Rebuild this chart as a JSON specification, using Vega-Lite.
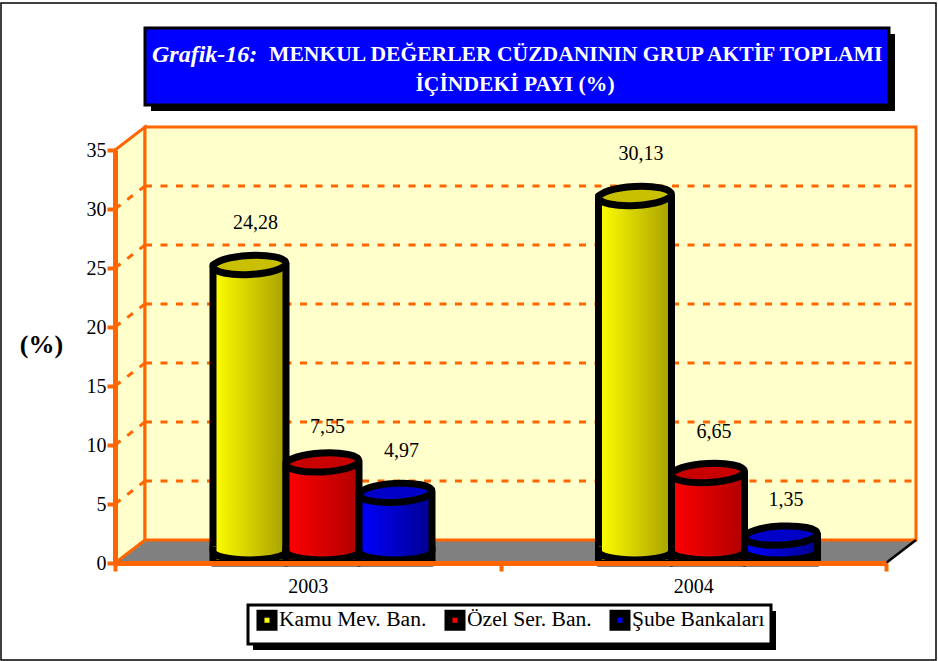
{"$schema":"https://vega.github.io/schema/vega-lite/v6.json","width":771,"height":413,"autosize":"none","padding":{"left":115,"top":150,"right":52,"bottom":98},"background":"white","config":{"font":"Liberation Serif","view":{"stroke":null},"text":{"font":"Liberation Serif"}},"data":{"values":[{"year":"2003","series":"Kamu Mev. Ban.","v":24.28,"label":"24,28"},{"year":"2003","series":"Özel Ser. Ban.","v":7.55,"label":"7,55"},{"year":"2003","series":"Şube Bankaları","v":4.97,"label":"4,97"},{"year":"2004","series":"Kamu Mev. Ban.","v":30.13,"label":"30,13"},{"year":"2004","series":"Özel Ser. Ban.","v":6.65,"label":"6,65"},{"year":"2004","series":"Şube Bankaları","v":1.35,"label":"1,35"}]},"resolve":{"scale":{"x":"independent"},"axis":{"x":"independent","y":"independent"}},"layer":[
{"data":{"values":[{}]},"mark":{"type":"rect","fill":null,"stroke":"black","strokeWidth":1.5},"encoding":{"x":{"datum":-114,"type":"quantitative","scale":{"domain":[0,771],"nice":false},"axis":null},"x2":{"datum":821},"y":{"datum":47.46,"type":"quantitative","scale":{"domain":[0,35],"nice":false},"axis":null},"y2":{"datum":-8.22}}},
{"data":{"values":[{}]},"mark":{"type":"rect","fill":"black","xOffset":6,"x2Offset":6,"yOffset":6,"y2Offset":6},"encoding":{"x":{"datum":30,"type":"quantitative","scale":{"domain":[0,771],"nice":false},"axis":null},"x2":{"datum":774},"y":{"datum":45.34,"type":"quantitative","scale":{"domain":[0,35],"nice":false},"axis":null},"y2":{"datum":38.81}}},
{"data":{"values":[{}]},"mark":{"type":"rect","fill":"#0000FF","stroke":"black","strokeWidth":3},"encoding":{"x":{"datum":30,"type":"quantitative","scale":{"domain":[0,771],"nice":false},"axis":null},"x2":{"datum":774},"y":{"datum":45.34,"type":"quantitative","scale":{"domain":[0,35],"nice":false},"axis":null},"y2":{"datum":38.81}}},
{"data":{"values":[{}]},"mark":{"type":"text","text":"Grafik-16:","align":"left","baseline":"middle","fontSize":24,"fontStyle":"italic","fontWeight":"bold","fill":"white"},"encoding":{"x":{"datum":37,"type":"quantitative","scale":{"domain":[0,771],"nice":false},"axis":null},"y":{"datum":43.07,"type":"quantitative","scale":{"domain":[0,35],"nice":false},"axis":null}}},
{"data":{"values":[{}]},"mark":{"type":"text","text":"MENKUL DEĞERLER CÜZDANININ GRUP AKTİF TOPLAMI","align":"left","baseline":"middle","fontSize":21.6,"fontWeight":"bold","fill":"white"},"encoding":{"x":{"datum":154,"type":"quantitative","scale":{"domain":[0,771],"nice":false},"axis":null},"y":{"datum":43.07,"type":"quantitative","scale":{"domain":[0,35],"nice":false},"axis":null}}},
{"data":{"values":[{}]},"mark":{"type":"text","text":"İÇİNDEKİ PAYI (%)","align":"center","baseline":"middle","fontSize":21.6,"fontWeight":"bold","fill":"white"},"encoding":{"x":{"datum":400,"type":"quantitative","scale":{"domain":[0,771],"nice":false},"axis":null},"y":{"datum":40.47,"type":"quantitative","scale":{"domain":[0,35],"nice":false},"axis":null}}},
{"data":{"values":[{"px":0,"lo":0,"hi":0},{"px":30,"lo":0,"hi":1.949},{"px":771,"lo":0,"hi":1.949},{"px":801,"lo":1.949,"hi":1.949}]},"mark":{"type":"area","fill":"#808080"},"encoding":{"x":{"field":"px","type":"quantitative","scale":{"domain":[0,771],"nice":false},"axis":null},"y":{"field":"lo","type":"quantitative","scale":{"domain":[0,35],"nice":false},"axis":null},"y2":{"field":"hi"}}},
{"data":{"values":[{"px":0,"lo":0,"hi":35},{"px":30,"lo":1.949,"hi":36.949}]},"mark":{"type":"area","fill":"#FFFFCC","stroke":"#FF6600","strokeWidth":3},"encoding":{"x":{"field":"px","type":"quantitative","scale":{"domain":[0,771],"nice":false},"axis":null},"y":{"field":"lo","type":"quantitative","scale":{"domain":[0,35],"nice":false},"axis":null},"y2":{"field":"hi"}}},
{"data":{"values":[{}]},"mark":{"type":"rect","fill":"#FFFFCC","stroke":"#FF6600","strokeWidth":3,"xOffset":30,"x2Offset":30,"yOffset":-23,"y2Offset":-23},"encoding":{"x":{"datum":0,"type":"quantitative","scale":{"domain":[0,771],"nice":false},"axis":null},"x2":{"datum":771},"y":{"datum":0,"type":"quantitative","scale":{"domain":[0,35],"nice":false},"axis":null},"y2":{"datum":35}}},
{"data":{"values":[{"g":5},{"g":10},{"g":15},{"g":20},{"g":25},{"g":30}]},"mark":{"type":"rule","stroke":"#FF6600","strokeWidth":3,"strokeDash":[7,8.5],"yOffset":-23,"xOffset":30,"x2Offset":30},"encoding":{"x":{"datum":0,"type":"quantitative","scale":{"domain":[0,771],"nice":false},"axis":null},"x2":{"datum":771},"y":{"field":"g","type":"quantitative","scale":{"domain":[0,35],"nice":false},"axis":null}}},
{"data":{"values":[{"g":5},{"g":10},{"g":15},{"g":20},{"g":25},{"g":30}]},"mark":{"type":"rule","stroke":"#FF6600","strokeWidth":3,"strokeDash":[7,8.5],"y2Offset":-23,"x2Offset":30},"encoding":{"x":{"datum":0,"type":"quantitative","scale":{"domain":[0,771],"nice":false},"axis":null},"x2":{"datum":0},"y":{"field":"g","type":"quantitative","scale":{"domain":[0,35],"nice":false},"axis":null},"y2":{"field":"g"}}},
{"data":{"values":[{}]},"mark":{"type":"rule","stroke":"black","strokeWidth":2.5,"x2Offset":30,"y2Offset":-23},"encoding":{"x":{"datum":771,"type":"quantitative","scale":{"domain":[0,771],"nice":false},"axis":null},"x2":{"datum":771},"y":{"datum":0,"type":"quantitative","scale":{"domain":[0,35],"nice":false},"axis":null},"y2":{"datum":0}}},
{"data":{"values":[{}]},"mark":{"type":"rect","fill":"black","xOffset":5,"x2Offset":5,"yOffset":6,"y2Offset":6},"encoding":{"x":{"datum":133,"type":"quantitative","scale":{"domain":[0,771],"nice":false},"axis":null},"x2":{"datum":656},"y":{"datum":-3.56,"type":"quantitative","scale":{"domain":[0,35],"nice":false},"axis":null},"y2":{"datum":-6.86}}},
{"data":{"values":[{}]},"mark":{"type":"rect","fill":"white","stroke":"black","strokeWidth":3},"encoding":{"x":{"datum":133,"type":"quantitative","scale":{"domain":[0,771],"nice":false},"axis":null},"x2":{"datum":656},"y":{"datum":-3.56,"type":"quantitative","scale":{"domain":[0,35],"nice":false},"axis":null},"y2":{"datum":-6.86}}},
{"transform":[{"filter":"datum.series==='Kamu Mev. Ban.'"}],"mark":{"type":"bar","width":73,"yOffset":-11.5,"y2Offset":-11.5,"stroke":"black","strokeWidth":7,"strokeJoin":"round","fill":{"gradient":"linear","x1":0,"y1":0,"x2":1,"y2":0,"stops":[{"offset":0,"color":"#FFFF00"},{"offset":1,"color":"#A8A000"}]}},"encoding":{"x":{"field":"year","type":"nominal","scale":{"type":"band","domain":["2003","2004"],"paddingInner":0,"paddingOuter":0},"axis":null},"xOffset":{"field":"series","type":"nominal","scale":{"type":"band","domain":["Kamu Mev. Ban.","Özel Ser. Ban.","Şube Bankaları"],"paddingInner":0,"paddingOuter":0,"range":[98,317]}},"y":{"field":"v","type":"quantitative","stack":null,"scale":{"domain":[0,35],"nice":false},"axis":null}}},
{"transform":[{"filter":"datum.series==='Kamu Mev. Ban.'"}],"mark":{"type":"point","filled":true,"shape":"M-1,-0.14L-1,0A1,0.23 0 0 0 1,0L1,-0.14","size":5329,"stroke":"black","strokeWidth":7,"opacity":1,"yOffset":-11.5,"fill":{"gradient":"linear","x1":0,"y1":0,"x2":1,"y2":0,"stops":[{"offset":0,"color":"#FFFF00"},{"offset":1,"color":"#A8A000"}]}},"encoding":{"x":{"field":"year","type":"nominal","scale":{"type":"band","domain":["2003","2004"],"paddingInner":0,"paddingOuter":0},"axis":null},"xOffset":{"field":"series","type":"nominal","scale":{"type":"band","domain":["Kamu Mev. Ban.","Özel Ser. Ban.","Şube Bankaları"],"paddingInner":0,"paddingOuter":0,"range":[98,317]}},"y":{"datum":0,"type":"quantitative","scale":{"domain":[0,35],"nice":false},"axis":null}}},
{"transform":[{"filter":"datum.series==='Kamu Mev. Ban.'"}],"mark":{"type":"point","filled":true,"shape":"M-1,0A1,0.26 0 1 1 1,0A1,0.26 0 1 1 -1,0Z","size":5329,"angle":-3,"fill":"#C8C000","stroke":"black","strokeWidth":7,"opacity":1,"yOffset":-11.5},"encoding":{"x":{"field":"year","type":"nominal","scale":{"type":"band","domain":["2003","2004"],"paddingInner":0,"paddingOuter":0},"axis":null},"xOffset":{"field":"series","type":"nominal","scale":{"type":"band","domain":["Kamu Mev. Ban.","Özel Ser. Ban.","Şube Bankaları"],"paddingInner":0,"paddingOuter":0,"range":[98,317]}},"y":{"field":"v","type":"quantitative","scale":{"domain":[0,35],"nice":false},"axis":null}}},
{"transform":[{"filter":"datum.series==='Özel Ser. Ban.'"}],"mark":{"type":"bar","width":73,"yOffset":-11.5,"y2Offset":-11.5,"stroke":"black","strokeWidth":7,"strokeJoin":"round","fill":{"gradient":"linear","x1":0,"y1":0,"x2":1,"y2":0,"stops":[{"offset":0,"color":"#FF0000"},{"offset":1,"color":"#B00000"}]}},"encoding":{"x":{"field":"year","type":"nominal","scale":{"type":"band","domain":["2003","2004"],"paddingInner":0,"paddingOuter":0},"axis":null},"xOffset":{"field":"series","type":"nominal","scale":{"type":"band","domain":["Kamu Mev. Ban.","Özel Ser. Ban.","Şube Bankaları"],"paddingInner":0,"paddingOuter":0,"range":[98,317]}},"y":{"field":"v","type":"quantitative","stack":null,"scale":{"domain":[0,35],"nice":false},"axis":null}}},
{"transform":[{"filter":"datum.series==='Özel Ser. Ban.'"}],"mark":{"type":"point","filled":true,"shape":"M-1,-0.14L-1,0A1,0.23 0 0 0 1,0L1,-0.14","size":5329,"stroke":"black","strokeWidth":7,"opacity":1,"yOffset":-11.5,"fill":{"gradient":"linear","x1":0,"y1":0,"x2":1,"y2":0,"stops":[{"offset":0,"color":"#FF0000"},{"offset":1,"color":"#B00000"}]}},"encoding":{"x":{"field":"year","type":"nominal","scale":{"type":"band","domain":["2003","2004"],"paddingInner":0,"paddingOuter":0},"axis":null},"xOffset":{"field":"series","type":"nominal","scale":{"type":"band","domain":["Kamu Mev. Ban.","Özel Ser. Ban.","Şube Bankaları"],"paddingInner":0,"paddingOuter":0,"range":[98,317]}},"y":{"datum":0,"type":"quantitative","scale":{"domain":[0,35],"nice":false},"axis":null}}},
{"transform":[{"filter":"datum.series==='Özel Ser. Ban.'"}],"mark":{"type":"point","filled":true,"shape":"M-1,0A1,0.26 0 1 1 1,0A1,0.26 0 1 1 -1,0Z","size":5329,"angle":-3,"fill":"#C80000","stroke":"black","strokeWidth":7,"opacity":1,"yOffset":-11.5},"encoding":{"x":{"field":"year","type":"nominal","scale":{"type":"band","domain":["2003","2004"],"paddingInner":0,"paddingOuter":0},"axis":null},"xOffset":{"field":"series","type":"nominal","scale":{"type":"band","domain":["Kamu Mev. Ban.","Özel Ser. Ban.","Şube Bankaları"],"paddingInner":0,"paddingOuter":0,"range":[98,317]}},"y":{"field":"v","type":"quantitative","scale":{"domain":[0,35],"nice":false},"axis":null}}},
{"transform":[{"filter":"datum.series==='Şube Bankaları'"}],"mark":{"type":"bar","width":73,"yOffset":-11.5,"y2Offset":-11.5,"stroke":"black","strokeWidth":7,"strokeJoin":"round","fill":{"gradient":"linear","x1":0,"y1":0,"x2":1,"y2":0,"stops":[{"offset":0,"color":"#0000FF"},{"offset":1,"color":"#000090"}]}},"encoding":{"x":{"field":"year","type":"nominal","scale":{"type":"band","domain":["2003","2004"],"paddingInner":0,"paddingOuter":0},"axis":null},"xOffset":{"field":"series","type":"nominal","scale":{"type":"band","domain":["Kamu Mev. Ban.","Özel Ser. Ban.","Şube Bankaları"],"paddingInner":0,"paddingOuter":0,"range":[98,317]}},"y":{"field":"v","type":"quantitative","stack":null,"scale":{"domain":[0,35],"nice":false},"axis":null}}},
{"transform":[{"filter":"datum.series==='Şube Bankaları'"}],"mark":{"type":"point","filled":true,"shape":"M-1,-0.14L-1,0A1,0.23 0 0 0 1,0L1,-0.14","size":5329,"stroke":"black","strokeWidth":7,"opacity":1,"yOffset":-11.5,"fill":{"gradient":"linear","x1":0,"y1":0,"x2":1,"y2":0,"stops":[{"offset":0,"color":"#0000FF"},{"offset":1,"color":"#000090"}]}},"encoding":{"x":{"field":"year","type":"nominal","scale":{"type":"band","domain":["2003","2004"],"paddingInner":0,"paddingOuter":0},"axis":null},"xOffset":{"field":"series","type":"nominal","scale":{"type":"band","domain":["Kamu Mev. Ban.","Özel Ser. Ban.","Şube Bankaları"],"paddingInner":0,"paddingOuter":0,"range":[98,317]}},"y":{"datum":0,"type":"quantitative","scale":{"domain":[0,35],"nice":false},"axis":null}}},
{"transform":[{"filter":"datum.series==='Şube Bankaları'"}],"mark":{"type":"point","filled":true,"shape":"M-1,0A1,0.26 0 1 1 1,0A1,0.26 0 1 1 -1,0Z","size":5329,"angle":-3,"fill":"#0000C8","stroke":"black","strokeWidth":7,"opacity":1,"yOffset":-11.5},"encoding":{"x":{"field":"year","type":"nominal","scale":{"type":"band","domain":["2003","2004"],"paddingInner":0,"paddingOuter":0},"axis":null},"xOffset":{"field":"series","type":"nominal","scale":{"type":"band","domain":["Kamu Mev. Ban.","Özel Ser. Ban.","Şube Bankaları"],"paddingInner":0,"paddingOuter":0,"range":[98,317]}},"y":{"field":"v","type":"quantitative","scale":{"domain":[0,35],"nice":false},"axis":null}}},
{"mark":{"type":"point","filled":true,"size":0.1,"yOffset":-11.5},"encoding":{"x":{"field":"year","type":"nominal","scale":{"type":"band","domain":["2003","2004"],"paddingInner":0,"paddingOuter":0},"axis":{"title":null,"tickBand":"extent","labelAngle":0,"domainColor":"#FF6600","domainWidth":5,"tickColor":"#FF6600","tickWidth":4,"tickSize":8,"labelFont":"Liberation Serif","labelFontSize":20,"labelColor":"black","labelPadding":5,"grid":false,"zindex":1}},"xOffset":{"field":"series","type":"nominal","scale":{"type":"band","domain":["Kamu Mev. Ban.","Özel Ser. Ban.","Şube Bankaları"],"paddingInner":0,"paddingOuter":0,"range":[98,317]}},"y":{"field":"v","type":"quantitative","scale":{"domain":[0,35],"nice":false},"axis":{"title":"(%)","titleAngle":0,"titleFont":"Liberation Serif","titleFontSize":26,"titleFontWeight":"bold","titleColor":"black","titleX":-74,"titleY":194,"titleAlign":"center","titleBaseline":"middle","values":[0,5,10,15,20,25,30,35],"domainColor":"#FF6600","domainWidth":5,"tickColor":"#FF6600","tickWidth":4,"tickSize":8,"labelFont":"Liberation Serif","labelFontSize":20,"labelColor":"black","labelPadding":1,"grid":false,"zindex":1}},"fill":{"field":"series","type":"nominal","scale":{"domain":["Kamu Mev. Ban.","Özel Ser. Ban.","Şube Bankaları"],"range":["#FFFF00","#FF0000","#0000FF"]},"legend":{"title":null,"orient":"none","legendX":141,"legendY":459,"direction":"horizontal","symbolType":"square","symbolSize":170,"symbolStrokeWidth":8,"symbolStrokeColor":"black","symbolOpacity":1,"labelFont":"Liberation Serif","labelFontSize":21.6,"labelColor":"black","labelOffset":1,"columnPadding":5,"padding":0}}}},
{"transform":[{"filter":"datum.v!==7.55&&datum.v!==1.35"}],"mark":{"type":"text","fontSize":20,"fill":"black","baseline":"middle","dx":6,"yOffset":-53},"encoding":{"x":{"field":"year","type":"nominal","scale":{"type":"band","domain":["2003","2004"],"paddingInner":0,"paddingOuter":0},"axis":null},"xOffset":{"field":"series","type":"nominal","scale":{"type":"band","domain":["Kamu Mev. Ban.","Özel Ser. Ban.","Şube Bankaları"],"paddingInner":0,"paddingOuter":0,"range":[98,317]}},"y":{"field":"v","type":"quantitative","scale":{"domain":[0,35],"nice":false},"axis":null},"text":{"field":"label","type":"nominal"}}},
{"transform":[{"filter":"datum.v===7.55||datum.v===1.35"}],"mark":{"type":"text","fontSize":20,"fill":"black","baseline":"middle","dx":5,"yOffset":-47},"encoding":{"x":{"field":"year","type":"nominal","scale":{"type":"band","domain":["2003","2004"],"paddingInner":0,"paddingOuter":0},"axis":null},"xOffset":{"field":"series","type":"nominal","scale":{"type":"band","domain":["Kamu Mev. Ban.","Özel Ser. Ban.","Şube Bankaları"],"paddingInner":0,"paddingOuter":0,"range":[98,317]}},"y":{"field":"v","type":"quantitative","scale":{"domain":[0,35],"nice":false},"axis":null},"text":{"field":"label","type":"nominal"}}}
]}
